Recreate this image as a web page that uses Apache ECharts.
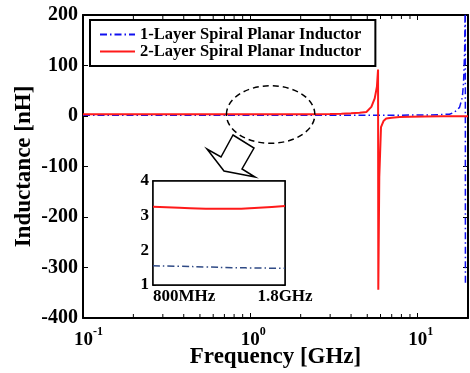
<!DOCTYPE html>
<html>
<head>
<meta charset="utf-8">
<script src="https://cdn.jsdelivr.net/npm/echarts@6/dist/echarts.min.js"></script>
<style>
  html, body { margin: 0; padding: 0; background: #fff; }
  #chart { width: 470px; height: 373px; }
</style>
</head>
<body>
<div id="chart"></div>
<script>
const FONT = "'Liberation Serif', 'Times New Roman', serif";

// main plot, frequency in GHz, inductance in nH
const freqBlue = [0.1, 0.3, 0.8, 1.8, 4, 8, 12, 15.5, 16.6, 17.8, 18.5, 18.8, 19.1, 19.27, 19.3];
const indBlue = [1.7, 1.65, 1.58, 1.5, 1.5, 1.7, 2.2, 3.5, 7.5, 17, 37, 64, 130, 250, -335];
const freqRed = [0.1, 0.2, 0.4, 0.7, 1.0, 1.5, 2.0, 2.5, 3.0, 3.5, 4.0, 4.5, 4.94, 5.29, 5.54, 5.71, 5.80,
  5.82, 5.9, 6.04, 6.25, 6.49, 7.0, 7.8, 9.0, 11, 14, 20];
const indRed = [3.4, 3.4, 3.35, 3.3, 3.25, 3.28, 3.35, 3.6, 4, 4.6, 5.5, 6.5, 8, 18, 35, 58, 92,
  -344, -120, -22, -10, -5, -3.5, -2, -1.5, -1, -0.6, -0.3];

// inset (zoom of 800MHz - 1.8GHz), frequency in MHz
const insetFreq = [800, 1000, 1200, 1400, 1600, 1800];
const insetRed = [3.26, 3.23, 3.2, 3.2, 3.23, 3.28];
const insetBlue = [1.555, 1.54, 1.52, 1.5, 1.49, 1.48];
const insetLabelVals = [800, 1800];
const insetLabelText = ['800MHz', '1.8GHz'];
const insetTickVals = [1090, 1370, 1645];

const seriesNames = ['1-Layer Spiral Planar Inductor', '2-Layer Spiral Planar Inductor'];
const minorSteps = [2, 3, 4, 5, 6, 7, 8, 9];

// dashed ellipse around the zoomed band (data units)
const ellipseF = [0.72, 2.43];
const ellipseL = [60, -54];

const zip = (a, b) => a.map((v, i) => [v, b[i]]);
const dashDot = [7, 3, 1.5, 3];

const axisBlack = { onZero: false, lineStyle: { color: '#000', width: 2 } };
const insetLine = { onZero: false, lineStyle: { color: '#000', width: 1.5 } };

const chart = echarts.init(document.getElementById('chart'));

const logLabel = v => {
  const lg = Math.log10(v);
  const e = Math.round(lg);
  if (Math.abs(lg - e) > 1e-6) return '';
  return '{p' + (e < 0 ? 'w' : 'n') + '|}{b|10}{s|' + e + '}';
};

chart.setOption({
  animation: false,
  backgroundColor: '#fff',
  textStyle: { fontFamily: FONT },
  grid: [
    { left: 83, top: 15, width: 385, height: 303, outerBoundsMode: 'none' },
    { left: 153, top: 181, width: 132, height: 104, outerBoundsMode: 'none', show: true, backgroundColor: '#fff', borderColor: '#000', borderWidth: 1.5, z: 5 }
  ],
  legend: {
    data: seriesNames,
    orient: 'vertical',
    left: 90, top: 20,
    padding: [6, 14, 6, 9],
    itemGap: 0,
    itemWidth: 35, itemHeight: 14,
    itemStyle: { opacity: 0 },
    backgroundColor: '#fff',
    borderColor: '#000', borderWidth: 2,
    textStyle: { fontFamily: FONT, fontWeight: 'bold', fontSize: 16.5, color: '#000' },
    z: 20
  },
  xAxis: [
    {
      type: 'log', logBase: 10, min: 0.1, max: 20, gridIndex: 0,
      name: 'Frequency [GHz]', nameLocation: 'middle', nameGap: 28, nameMoveOverlap: false,
      nameTextStyle: { fontFamily: FONT, fontWeight: 'bold', fontSize: 23, color: '#000' },
      axisLine: axisBlack,
      axisTick: { inside: true, length: 5, lineStyle: { color: '#000' } },
      splitLine: { show: false },
      axisLabel: {
        margin: 8, showMaxLabel: false, color: '#000',
        formatter: logLabel,
        rich: {
          pw: { width: 11 },
          pn: { width: 6 },
          b: { fontFamily: FONT, fontWeight: 'bold', fontSize: 19, color: '#000', verticalAlign: 'bottom', lineHeight: 24 },
          s: { fontFamily: FONT, fontWeight: 'bold', fontSize: 12, color: '#000', verticalAlign: 'top', lineHeight: 12 }
        }
      }
    },
    {
      type: 'log', logBase: 10, min: 0.1, max: 20, gridIndex: 0, position: 'top',
      axisLine: axisBlack,
      axisTick: { inside: true, length: 5, lineStyle: { color: '#000' } },
      axisLabel: { show: false }, splitLine: { show: false }
    },
    {
      type: 'value', min: 800, max: 1800, gridIndex: 1,
      axisLine: insetLine,
      axisTick: { inside: true, length: 3, customValues: insetTickVals, lineStyle: { color: '#000' } },
      splitLine: { show: false },
      axisLabel: {
        customValues: insetLabelVals,
        margin: 3, color: '#000', fontFamily: FONT, fontWeight: 'bold', fontSize: 17,
        alignMinLabel: 'left', alignMaxLabel: 'center',
        formatter: v => insetLabelText[insetLabelVals.indexOf(v)] || ''
      }
    },
    {
      type: 'value', min: 800, max: 1800, gridIndex: 1, position: 'top',
      axisLine: insetLine,
      axisTick: { inside: true, length: 3, customValues: insetTickVals, lineStyle: { color: '#000' } },
      axisLabel: { show: false }, splitLine: { show: false }
    }
  ],
  yAxis: [
    {
      type: 'value', min: -400, max: 200, interval: 100, gridIndex: 0,
      name: 'Inductance [nH]', nameLocation: 'middle', nameGap: 47, nameMoveOverlap: false,
      nameTextStyle: { fontFamily: FONT, fontWeight: 'bold', fontSize: 23, color: '#000' },
      axisLine: axisBlack,
      axisTick: { inside: true, length: 5, lineStyle: { color: '#000' } },
      splitLine: { show: false },
      axisLabel: { margin: 5, color: '#000', fontFamily: FONT, fontWeight: 'bold', fontSize: 20 }
    },
    {
      type: 'value', min: -400, max: 200, interval: 100, gridIndex: 0, position: 'right',
      axisLine: axisBlack,
      axisTick: { inside: true, length: 5, lineStyle: { color: '#000' } },
      axisLabel: { show: false }, splitLine: { show: false }
    },
    {
      type: 'value', min: 1, max: 4, interval: 1, gridIndex: 1,
      axisLine: insetLine,
      axisTick: { inside: true, length: 3, lineStyle: { color: '#000' } },
      splitLine: { show: false },
      axisLabel: { margin: 4, color: '#000', fontFamily: FONT, fontWeight: 'bold', fontSize: 17 }
    },
    {
      type: 'value', min: 1, max: 4, interval: 1, gridIndex: 1, position: 'right',
      axisLine: insetLine,
      axisTick: { inside: true, length: 3, lineStyle: { color: '#000' } },
      axisLabel: { show: false }, splitLine: { show: false }
    }
  ],
  series: [
    {
      name: seriesNames[0], type: 'line', xAxisIndex: 0, yAxisIndex: 0,
      data: zip(freqBlue, indBlue), symbol: 'none', clip: true,
      color: '#1010f0',
      lineStyle: { width: 1.5, type: dashDot }
    },
    {
      name: seriesNames[1], type: 'line', xAxisIndex: 0, yAxisIndex: 0,
      data: zip(freqRed, indRed), symbol: 'none', clip: true,
      color: '#ff1a1a',
      lineStyle: { width: 2 }
    },
    {
      name: 'inset-1', type: 'line', xAxisIndex: 2, yAxisIndex: 2,
      data: zip(insetFreq, insetBlue), symbol: 'none', smooth: true,
      color: '#2f4a85', lineStyle: { width: 1.5, type: dashDot }, z: 6
    },
    {
      name: 'inset-2', type: 'line', xAxisIndex: 2, yAxisIndex: 2,
      data: zip(insetFreq, insetRed), symbol: 'none', smooth: true,
      color: '#ff1a1a', lineStyle: { width: 2 }, z: 6
    }
  ]
});

// log minor ticks (2..9 per decade) on bottom and top, plus annotations
const gridTop = 15, gridBottom = 318;
const marks = [];
[0.1, 1, 10].forEach(dec => {
  minorSteps.forEach(k => {
    const f = dec * k;
    if (f >= 20) return;
    const x = chart.convertToPixel({ xAxisIndex: 0 }, f);
    marks.push({ type: 'line', shape: { x1: x, y1: gridBottom, x2: x, y2: gridBottom - 4 }, style: { stroke: '#000', lineWidth: 1 } });
    marks.push({ type: 'line', shape: { x1: x, y1: gridTop, x2: x, y2: gridTop + 4 }, style: { stroke: '#000', lineWidth: 1 } });
  });
});

const ex0 = chart.convertToPixel({ xAxisIndex: 0 }, ellipseF[0]);
const ex1 = chart.convertToPixel({ xAxisIndex: 0 }, ellipseF[1]);
const ey0 = chart.convertToPixel({ yAxisIndex: 0 }, ellipseL[0]);
const ey1 = chart.convertToPixel({ yAxisIndex: 0 }, ellipseL[1]);
marks.push({
  type: 'ellipse', z: 30,
  shape: { cx: (ex0 + ex1) / 2, cy: (ey0 + ey1) / 2, rx: (ex1 - ex0) / 2, ry: (ey1 - ey0) / 2 },
  style: { fill: null, stroke: '#000', lineWidth: 1.5, lineDash: [6, 4] }
});
marks.push({
  type: 'polygon', z: 30,
  shape: { points: [[233, 135], [254, 148], [242, 169], [255, 177], [224, 171], [207, 149], [221, 157]] },
  style: { fill: '#fff', stroke: '#000', lineWidth: 1.5 }
});

chart.setOption({ graphic: marks });
</script>
</body>
</html>
